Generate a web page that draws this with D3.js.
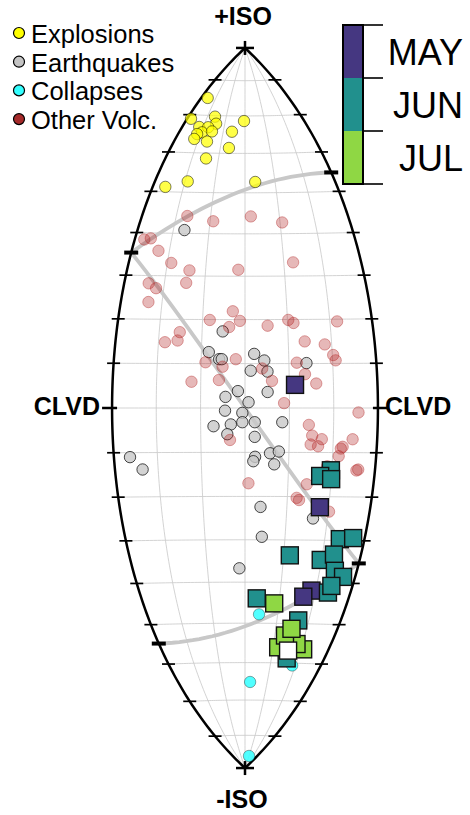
<!DOCTYPE html>
<html><head><meta charset="utf-8">
<script src="https://cdn.jsdelivr.net/npm/d3@7"></script>
<style>body{margin:0;background:#fff}svg{display:block}text{font-family:"Liberation Sans",Arial,Helvetica,sans-serif}</style>
</head><body><svg id="c" width="470" height="815"></svg>
<script>
// lune coordinates [gamma (longitude, deg), delta (latitude, deg)]
const explosions = [[-25.6,74.8],[-28.0,68.9],[-16.0,69.7],[-14.3,67.8],[-21.9,66.8],[-17.6,66.8],[-19.6,65.4],[-15.2,65.7],[-21.5,64.9],[-21.9,63.6],[-16.1,63.0],[-0.5,68.6],[-6.0,65.7],[-6.5,61.4],[-14.7,58.6],[-19.1,52.7],[-25.9,51.2],[3.4,52.7]];
const earthquakes = [[-16.9,40.8],[-5.2,17.3],[-8.3,12.6],[-5.9,11.0],[-5.3,11.0],[2.1,12.2],[4.4,10.7],[1.3,8.4],[5.1,8.2],[14.0,10.1],[-1.6,3.8],[5.1,3.6],[-4.4,2.5],[0.8,1.3],[-4.5,-0.6],[-0.6,-1.1],[-0.6,-3.2],[2.2,-3.2],[-3.2,-3.7],[-7.1,-4.1],[8.4,-3.2],[-4.0,-5.9],[2.2,-6.5],[-26.3,-11.0],[-23.6,-13.8],[2.3,-11.0],[1.9,-12.0],[5.7,-10.2],[7.7,-9.8],[6.7,-12.7],[3.7,-22.4],[16.5,-25.0],[4.2,-29.3],[-1.5,-36.7]];
const collapses = [[4.3,-47.8],[18.7,-60.6],[2.3,-65.1],[9.9,-86.2]];
const otherVolc = [[-16.8,44.2],[-9.1,43.0],[1.7,44.2],[10.6,42.7],[-27.4,38.4],[-25.7,38.7],[-22.9,35.8],[-19.0,33.0],[-14.1,31.3],[-1.7,31.5],[12.4,33.2],[-23.9,28.2],[-21.9,27.1],[-14.6,28.4],[-23.3,23.9],[-2.9,21.9],[-8.3,19.9],[-1.2,19.7],[-3.7,18.3],[5.3,18.6],[10.2,19.9],[11.4,19.2],[21.7,19.5],[-15.2,17.1],[-18.5,14.8],[-15.6,15.2],[13.8,15.0],[18.4,14.3],[20.2,11.9],[20.7,10.7],[-9.0,10.3],[-5.1,9.3],[-2.1,11.0],[11.8,10.2],[3.9,8.9],[13.6,7.6],[-12.1,5.9],[-5.9,6.3],[6.1,6.1],[16.1,5.5],[8.8,1.1],[25.6,-1.0],[14.4,-3.8],[-3.4,-7.2],[15.2,-6.2],[17.4,-7.0],[14.9,-8.2],[16.6,-8.6],[24.4,-7.0],[21.8,-9.1],[22.2,-8.7],[21.4,-10.8],[18.9,-13.1],[25.7,-14.0],[26.1,-13.8],[0.8,-17.0],[14.4,-17.2],[12.2,-20.3],[12.8,-20.8],[20.2,-23.4]];
const mayEvents = [[11.3,5.2],[17.9,-22.4],[18.8,-41.9],[16.8,-43.4]];
const junEvents = [[19.8,-14.0],[17.4,-15.3],[20.0,-16.0],[11.6,-33.6],[23.8,-29.7],[27.1,-29.4],[19.8,-34.6],[23.0,-33.3],[24.1,-37.1],[26.7,-38.5],[23.6,-42.3],[24.1,-40.7],[3.4,-43.9],[16.7,-49.2],[15.8,-58.8]];
const julEvents = [[8.6,-45.1],[11.8,-56.0],[20.9,-56.4],[18.0,-55.1],[13.4,-53.0],[15.1,-51.3]];
const latestEvent = [[15.6,-56.8]];
const months = ["MAY","JUN","JUL"];
const monthColors = ["#453781","#21908d","#8fd744"];
const legendLabels = ["Explosions","Earthquakes","Collapses","Other Volc."];
const legendColors = ["#ffff00","#c4c4c4","#33ffff","#a52a2a"];
const gridLons = [-20,-10,0,10,20];
const gridLats = [-80,-70,-60,-50,-40,-30,-20,-10,0,10,20,30,40,50,60,70,80];
const crackArcs = [[[-30,35.26],[30,54.74]],[[-30,35.26],[30,-35.26]],[[-30,-54.74],[30,-35.26]]];
const crackPoints = [[-30,35.26],[30,54.74],[30,-35.26],[-30,-54.74]];

function hammerRaw(l, p) {
  const cp = Math.cos(p), d = Math.sqrt(1 + cp * Math.cos(l / 2));
  return [2 * Math.SQRT2 * cp * Math.sin(l / 2) / d, Math.SQRT2 * Math.sin(p) / d];
}
const proj = d3.geoProjection(hammerRaw).scale(254.6).translate([245, 408]).precision(0.05);
const path = d3.geoPath(proj);
const svg = d3.select("#c");
const ls = c => ({type: "LineString", coordinates: c});

// grid
const g = svg.append("g").attr("fill", "none").attr("stroke", "#c8c8c8").attr("stroke-width", 0.8);
gridLons.forEach(l => g.append("path").attr("d", path(ls(d3.range(-90, 90.01, 1).map(p => [l, p])))));
gridLats.forEach(p => g.append("path").attr("d", path(ls(d3.range(-30, 30.01, 1).map(l => [l, p])))));

// crack arcs
svg.append("g").attr("fill", "none").attr("stroke", "#c8c8c8").attr("stroke-width", 3.8)
  .selectAll("path").data(crackArcs).join("path").attr("d", d => path(ls(d)));

// boundary
const b = svg.append("g").attr("fill", "none").attr("stroke", "#000").attr("stroke-width", 2.5);
[-30, 30].forEach(l => b.append("path").attr("d", path(ls(d3.range(-90, 90.01, 1).map(p => [l, p])))));

// ticks
const tk = svg.append("g").attr("stroke", "#000");
gridLats.filter(p => p !== 0).forEach(p => [-30, 30].forEach(l => {
  const [x, y] = proj([l, p]);
  tk.append("line").attr("x1", x - 6.5).attr("x2", x + 6.5).attr("y1", y).attr("y2", y).attr("stroke-width", 1.7);
}));
[-30, 30].forEach(l => {
  const [x, y] = proj([l, 0]);
  const s = l < 0 ? -1 : 1;
  tk.append("line").attr("x1", x - 5 * s).attr("x2", x + 10 * s).attr("y1", y).attr("y2", y).attr("stroke-width", 2.5);
});
crackPoints.forEach(c => {
  const [x, y] = proj(c);
  tk.append("line").attr("x1", x - 7).attr("x2", x + 7).attr("y1", y).attr("y2", y).attr("stroke-width", 4);
});
[90, -90].forEach(p => {
  const [x, y] = proj([0, p]);
  tk.append("line").attr("x1", x - 9).attr("x2", x + 9).attr("y1", y).attr("y2", y).attr("stroke-width", 2.5);
  tk.append("line").attr("x1", x).attr("x2", x).attr("y1", y - 7).attr("y2", y + 7).attr("stroke-width", 2.5);
});

// circles
function circles(data, fill, fo, stroke, so) {
  svg.append("g").selectAll("circle").data(data).join("circle")
    .attr("cx", d => proj(d)[0]).attr("cy", d => proj(d)[1]).attr("r", 5.7)
    .attr("fill", fill).attr("fill-opacity", fo).attr("stroke", stroke).attr("stroke-opacity", so).attr("stroke-width", 1);
}
circles(earthquakes, "#c8c8c8", 0.8, "#000", 0.7);
circles(otherVolc, "#b22222", 0.32, "#b22222", 0.4);
circles(explosions, "#ffff00", 0.72, "#000", 0.5);
circles(collapses, "#33ffff", 0.85, "#000", 0.35);

// squares
function squares(data, fill) {
  const s = 17;
  svg.append("g").selectAll("rect").data(data).join("rect")
    .attr("x", d => proj(d)[0] - s / 2).attr("y", d => proj(d)[1] - s / 2)
    .attr("width", s).attr("height", s).attr("fill", fill).attr("stroke", "#111").attr("stroke-width", 1.4);
}
squares(mayEvents, monthColors[0]);
squares(junEvents, monthColors[1]);
squares(julEvents, monthColors[2]);
squares(latestEvent, "#ffffff");

// labels
const lab = svg.append("g").attr("font-weight", "bold").attr("font-size", 25).attr("fill", "#000");
lab.append("text").attr("x", 243).attr("y", 25).attr("text-anchor", "middle").text("+ISO");
lab.append("text").attr("x", 242).attr("y", 808).attr("text-anchor", "middle").text("-ISO");
lab.append("text").attr("x", 100).attr("y", 415).attr("text-anchor", "end").text("CLVD");
lab.append("text").attr("x", 385).attr("y", 415).attr("text-anchor", "start").text("CLVD");

// legend
const leg = svg.append("g");
legendLabels.forEach((t, i) => {
  const y = 43 + i * 28.7;
  leg.append("circle").attr("cx", 19).attr("cy", y - 10).attr("r", 5.5).attr("fill", legendColors[i]).attr("stroke", "#000").attr("stroke-width", 1.2);
  leg.append("text").attr("x", 31).attr("y", y).attr("font-size", 25.5).text(t);
});

// colorbar
const cy = d3.scaleLinear().domain([0, months.length]).range([25, 184]);
const cb = svg.append("g");
months.forEach((m, i) => {
  cb.append("rect").attr("x", 343).attr("y", cy(i)).attr("width", 20).attr("height", cy(i + 1) - cy(i)).attr("fill", monthColors[i]);
  cb.append("text").attr("x", 463).attr("y", (cy(i) + cy(i + 1)) / 2 + 13).attr("text-anchor", "end").attr("font-size", 36).text(m);
});
cb.append("rect").attr("x", 343).attr("y", 25).attr("width", 20).attr("height", 159).attr("fill", "none").attr("stroke", "#000").attr("stroke-width", 2);
d3.range(months.length + 1).forEach(i => cb.append("line").attr("x1", 363).attr("x2", 383).attr("y1", cy(i)).attr("y2", cy(i)).attr("stroke", "#000").attr("stroke-width", 1.6));
</script></body></html>
